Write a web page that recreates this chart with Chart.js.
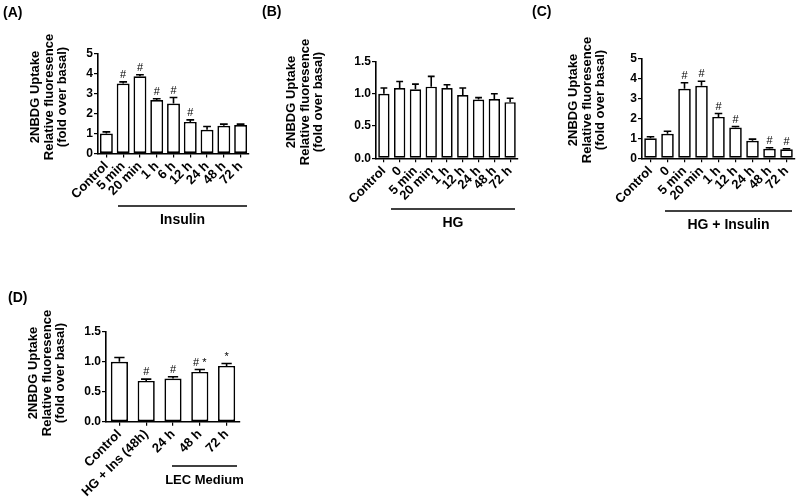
<!DOCTYPE html>
<html>
<head>
<meta charset="utf-8">
<script src="https://cdn.jsdelivr.net/npm/chart.js@4.4.1/dist/chart.umd.min.js"></script>
<style>
    html, body { margin: 0; padding: 0; background: #fff; }
    #wrap { position: relative; width: 800px; height: 499px; overflow: hidden; }
    #wrap canvas { position: absolute; left: 0; top: 0; }
</style>
</head>
<body>
<div id="wrap">
    <canvas id="chartA" width="800" height="499"></canvas>
    <canvas id="chartB" width="800" height="499"></canvas>
    <canvas id="chartC" width="800" height="499"></canvas>
    <canvas id="chartD" width="800" height="499"></canvas>
</div>
<script>
// Panel A - Insulin
const catsA = ["Control", "5 min", "20 min", "1 h", "6 h", "12 h", "24 h", "48 h", "72 h"];
const meanA = [1.0, 3.5, 3.86, 2.67, 2.5, 1.58, 1.19, 1.39, 1.42];
const errA = [0.08, 0.08, 0.08, 0.07, 0.3, 0.1, 0.16, 0.08, 0.05];
const sigA = ["", "#", "#", "#", "#", "#", "", "", ""];

// Panel B - HG
const catsB = ["Control", "0", "5 min", "20 min", "1 h", "12 h", "24 h", "48 h", "72 h"];
const meanB = [1.0, 1.09, 1.07, 1.11, 1.09, 0.98, 0.91, 0.92, 0.87];
const errB = [0.09, 0.1, 0.08, 0.16, 0.05, 0.11, 0.03, 0.08, 0.06];
const sigB = ["", "", "", "", "", "", "", "", ""];

// Panel C - HG + Insulin
const catsC = ["Control", "0", "5 min", "20 min", "1 h", "12 h", "24 h", "48 h", "72 h"];
const meanC = [1.0, 1.23, 3.48, 3.63, 2.07, 1.54, 0.88, 0.48, 0.45];
const errC = [0.08, 0.12, 0.3, 0.22, 0.17, 0.05, 0.08, 0.05, 0.03];
const sigC = ["", "", "#", "#", "#", "#", "", "#", "#"];

// Panel D - LEC Medium
const catsD = ["Control", "HG + Ins (48h)", "24 h", "48 h", "72 h"];
const meanD = [1.0, 0.68, 0.72, 0.83, 0.93];
const errD = [0.07, 0.03, 0.03, 0.04, 0.04];
const sigD = ["", "#", "#", "# *", "*"];

const yTitle = ["2NBDG Uptake", "Relative fluoresence", "(fold over basal)"];
const FONT = '"Liberation Sans", Arial, sans-serif';
const Y_W = 30;

// error bars, markers, titles, group bars
const decor = {
    id: "decor",
    afterDatasetsDraw(chart, args, o) {
        const ctx = chart.ctx, ys = chart.scales.y;
        const meta = chart.getDatasetMeta(0);
        ctx.save();
        ctx.strokeStyle = "#000";
        ctx.fillStyle = "#000";
        ctx.lineWidth = 1.6;
        meta.data.forEach((bar, i) => {
            const top = ys.getPixelForValue(o.means[i] + o.errs[i]);
            const cap = bar.width * 0.3;
            ctx.beginPath();
            ctx.moveTo(bar.x, bar.y);
            ctx.lineTo(bar.x, top);
            ctx.moveTo(bar.x - cap, top);
            ctx.lineTo(bar.x + cap, top);
            ctx.stroke();
            if (o.sig[i]) {
                ctx.font = "11px " + FONT;
                ctx.textAlign = "center";
                ctx.textBaseline = "alphabetic";
                ctx.fillText(o.sig[i], bar.x, top - 4);
            }
        });
        ctx.restore();
    },
    afterDraw(chart, args, o) {
        const ctx = chart.ctx;
        ctx.save();
        ctx.fillStyle = "#000";
        ctx.strokeStyle = "#000";
        // panel letter
        ctx.font = "bold 14px " + FONT;
        ctx.textAlign = "left";
        ctx.textBaseline = "middle";
        ctx.fillText(o.letter, o.letterX, o.letterY);
        // y title
        ctx.font = "bold 13px " + FONT;
        ctx.textAlign = "center";
        yTitle.forEach((t, i) => {
            ctx.save();
            ctx.translate(o.titleX[i], o.titleY);
            ctx.rotate(-Math.PI / 2);
            ctx.fillText(t, 0, 0);
            ctx.restore();
        });
        // group line + label
        ctx.lineWidth = 1.3;
        ctx.beginPath();
        ctx.moveTo(o.group.x1, o.group.y);
        ctx.lineTo(o.group.x2, o.group.y);
        ctx.stroke();
        ctx.font = "bold " + o.group.size + "px " + FONT;
        ctx.fillText(o.group.label, (o.group.x1 + o.group.x2) / 2, o.group.y + 14);
        ctx.restore();
    }
};

function makePanel(id, cats, means, errs, sig, area, xH, yMax, yStep, digits, barPct, deco) {
    const ctx = document.getElementById(id).getContext("2d");
    return new Chart(ctx, {
        type: "bar",
        data: {
            labels: cats,
            datasets: [{
                data: means,
                backgroundColor: "#fff",
                borderColor: "#000",
                borderWidth: 1.7,
                borderSkipped: false,
                barPercentage: barPct,
                categoryPercentage: 1.0,
            }],
        },
        options: {
            responsive: false,
            animation: false,
            devicePixelRatio: 1,
            layout: {
                padding: {
                    left: area.left - Y_W,
                    right: 800 - area.right,
                    top: area.top,
                    bottom: 499 - area.bottom - xH,
                },
            },
            plugins: {
                legend: { display: false },
                tooltip: { enabled: false },
                decor: Object.assign({ means: means, errs: errs, sig: sig }, deco),
            },
            scales: {
                x: {
                    afterFit: (s) => { s.height = xH; },
                    grid: { display: true, drawOnChartArea: false, offset: false, tickLength: 4, color: "#000", lineWidth: 1.2 },
                    border: { display: true, color: "#000", width: 1.6 },
                    ticks: {
                        autoSkip: false, minRotation: 45, maxRotation: 45, padding: 1,
                        color: "#000", font: { family: FONT, size: 13, weight: "bold" },
                    },
                },
                y: {
                    min: 0, max: yMax,
                    afterFit: (s) => { s.width = Y_W; },
                    grid: { display: true, drawOnChartArea: false, tickLength: 4, color: "#000", lineWidth: 1.2 },
                    border: { display: true, color: "#000", width: 1.6 },
                    ticks: {
                        stepSize: yStep, padding: 1, color: "#000",
                        font: { family: FONT, size: 12, weight: "bold" },
                        callback: (v) => Number(v).toFixed(digits),
                    },
                },
            },
        },
        plugins: [decor],
    });
}

makePanel("chartA", catsA, meanA, errA, sigA,
    { left: 98, right: 249, top: 53.5, bottom: 153.5 }, 60, 5, 1, 0, 0.77,
    { letter: "(A)", letterX: 3, letterY: 13, titleX: [35, 49, 62], titleY: 97,
      group: { label: "Insulin", x1: 118, x2: 247, y: 206, size: 14 } });

makePanel("chartB", catsB, meanB, errB, sigB,
    { left: 376, right: 518, top: 61.5, bottom: 158.3 }, 60, 1.5, 0.5, 1, 0.72,
    { letter: "(B)", letterX: 262, letterY: 12, titleX: [291, 305, 318], titleY: 102,
      group: { label: "HG", x1: 391, x2: 515, y: 209, size: 14 } });

makePanel("chartC", catsC, meanC, errC, sigC,
    { left: 642, right: 795, top: 58.3, bottom: 158.3 }, 60, 5, 1, 0, 0.74,
    { letter: "(C)", letterX: 532, letterY: 12, titleX: [573, 587, 600], titleY: 100,
      group: { label: "HG + Insulin", x1: 665, x2: 792, y: 211, size: 14 } });

makePanel("chartD", catsD, meanD, errD, sigD,
    { left: 106, right: 240, top: 331.7, bottom: 421.7 }, 77, 1.5, 0.5, 1, 0.64,
    { letter: "(D)", letterX: 8, letterY: 298, titleX: [33, 47, 60], titleY: 373,
      group: { label: "LEC Medium", x1: 172, x2: 237, y: 466, size: 13 } });
</script>
</body>
</html>
